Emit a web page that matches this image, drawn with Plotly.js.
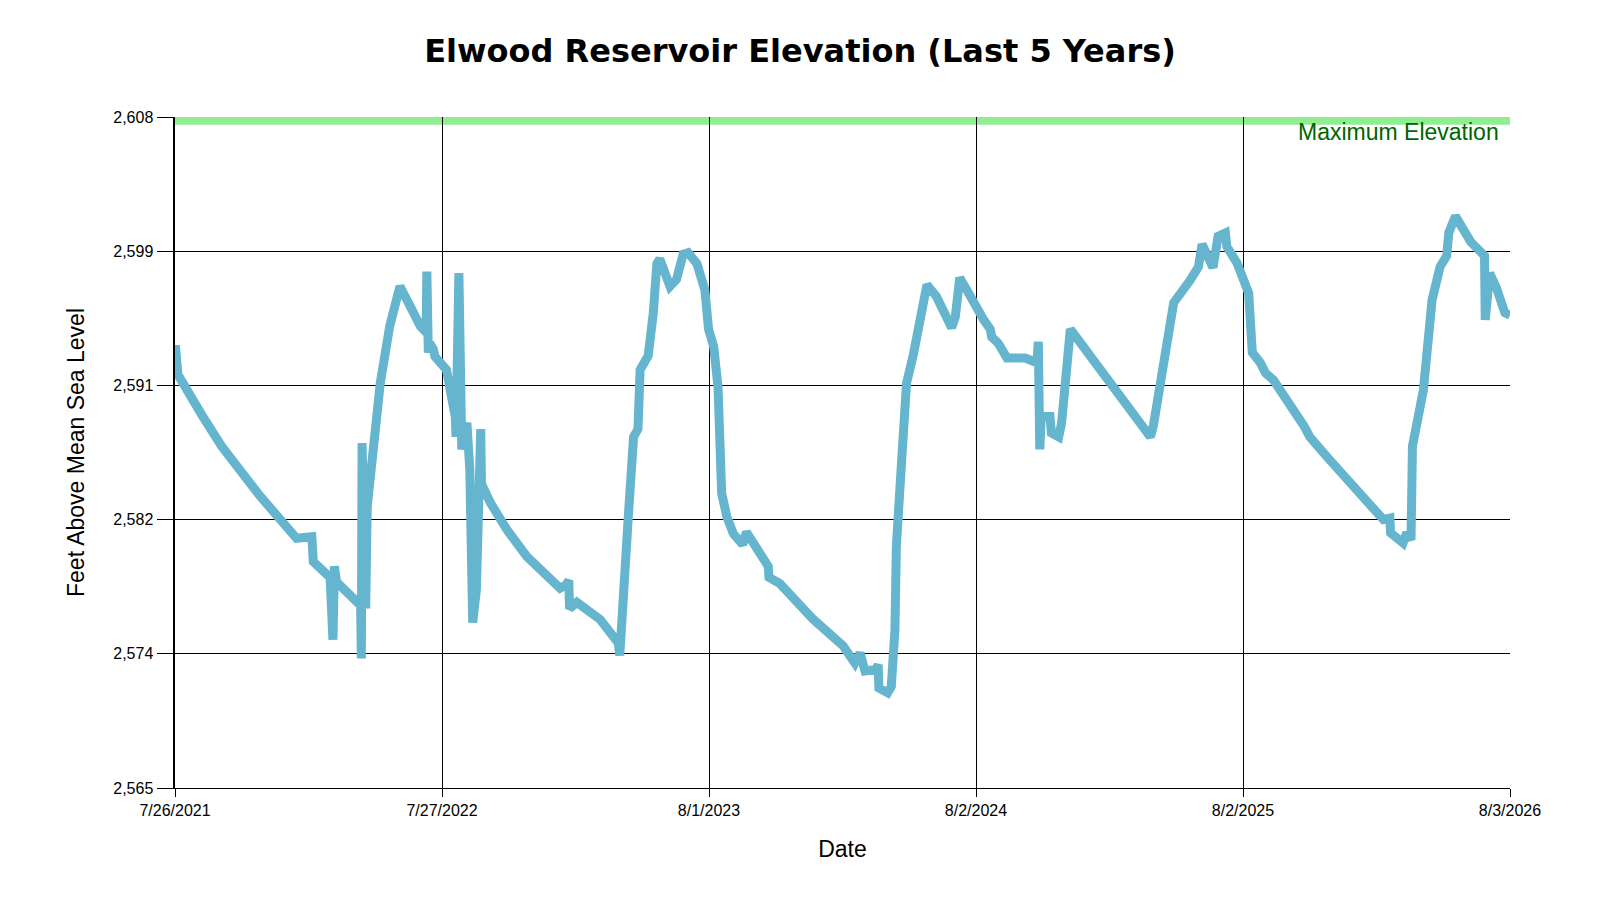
<!DOCTYPE html>
<html>
<head>
<meta charset="utf-8">
<script src="https://cdn.plot.ly/plotly-3.0.1.min.js"></script>
<style>
  html, body { margin: 0; padding: 0; background: #fff; }
  #chart { width: 1600px; height: 900px; }
</style>
</head>
<body>
<div id="chart"></div>
<script>
// elevation readings (ft above mean sea level)
var dates = [
  '2021-07-26', '2021-07-27', '2021-07-30', '2021-08-06', '2021-08-16', '2021-09-01', '2021-09-28',
  '2021-11-20', '2022-01-09', '2022-01-30', '2022-02-01', '2022-02-24', '2022-02-28', '2022-03-02',
  '2022-03-05', '2022-04-02', '2022-04-07', '2022-04-08', '2022-04-09', '2022-04-14', '2022-04-16',
  '2022-05-04', '2022-05-17', '2022-05-31', '2022-06-28', '2022-07-06', '2022-07-07', '2022-07-09',
  '2022-07-11', '2022-07-16', '2022-07-18', '2022-08-03', '2022-08-08', '2022-08-12', '2022-08-15',
  '2022-08-16', '2022-08-20', '2022-08-24', '2022-08-31', '2022-09-04', '2022-09-08', '2022-09-13',
  '2022-09-19', '2022-09-20', '2022-10-02', '2022-10-25', '2022-11-21', '2022-12-23', '2023-01-06',
  '2023-01-14', '2023-01-18', '2023-01-19', '2023-01-29', '2023-03-02', '2023-03-27', '2023-03-29',
  '2023-04-03', '2023-04-10', '2023-04-17', '2023-04-23', '2023-04-26', '2023-05-07', '2023-05-14',
  '2023-05-19', '2023-05-23', '2023-06-06', '2023-06-15', '2023-06-24', '2023-07-01', '2023-07-13',
  '2023-07-24', '2023-07-29', '2023-08-05', '2023-08-11', '2023-08-16', '2023-08-23', '2023-09-01',
  '2023-09-14', '2023-09-19', '2023-10-19', '2023-10-20', '2023-11-04', '2023-12-20', '2024-01-30',
  '2024-02-15', '2024-02-22', '2024-02-29', '2024-03-15', '2024-03-18', '2024-03-19', '2024-03-31',
  '2024-04-05', '2024-04-10', '2024-04-12', '2024-04-19', '2024-04-26', '2024-05-05', '2024-05-15',
  '2024-05-24', '2024-06-06', '2024-06-20', '2024-06-27', '2024-07-02', '2024-07-08', '2024-07-18',
  '2024-07-29', '2024-08-10', '2024-08-19', '2024-08-21', '2024-08-30', '2024-09-11', '2024-10-06',
  '2024-10-22', '2024-10-24', '2024-10-26', '2024-10-28', '2024-11-09', '2024-11-11', '2024-11-21',
  '2024-11-25', '2024-12-07', '2025-01-26', '2025-03-27', '2025-03-31', '2025-04-12', '2025-04-28',
  '2025-05-20', '2025-06-01', '2025-06-06', '2025-06-21', '2025-06-28', '2025-07-08', '2025-07-10',
  '2025-07-24', '2025-07-31', '2025-08-09', '2025-08-14', '2025-08-25', '2025-09-01', '2025-09-12',
  '2025-10-24', '2025-11-01', '2025-11-24', '2025-12-31', '2026-02-10', '2026-02-19', '2026-02-20',
  '2026-03-09', '2026-03-14', '2026-03-20', '2026-03-22', '2026-04-06', '2026-04-13', '2026-04-18',
  '2026-04-29', '2026-05-08', '2026-05-11', '2026-05-20', '2026-06-10', '2026-06-23', '2026-06-29',
  '2026-06-30', '2026-07-06', '2026-07-15', '2026-07-22', '2026-07-27', '2026-08-03'
];

var elevation = [
  2593.1, 2593.1, 2591.5, 2590.95, 2589.9, 2588.9, 2586.9,
  2583.7, 2581.0, 2581.1, 2579.5, 2578.5, 2574.5, 2579.2,
  2578.2, 2576.75, 2576.7, 2573.3, 2587.1, 2576.5, 2583.0,
  2590.95, 2594.6, 2597.15, 2594.6, 2594.2, 2598.1, 2592.9,
  2593.5, 2593.1, 2592.66, 2591.8, 2590.74, 2589.24, 2588.8,
  2587.5, 2598.0, 2586.7, 2588.4, 2585.4, 2575.6, 2577.7,
  2588.0, 2584.5, 2583.3, 2581.55, 2579.85, 2578.35, 2577.8,
  2578.0, 2578.3, 2576.5, 2576.9, 2575.8, 2574.3, 2573.5,
  2578.35, 2582.6, 2587.5, 2588.0, 2591.8, 2592.7, 2595.4,
  2598.6, 2598.9, 2597.15, 2597.6, 2599.2, 2599.3, 2598.6,
  2596.9, 2594.4, 2593.3, 2590.7, 2583.9, 2582.4, 2581.3,
  2580.6, 2581.4, 2579.2, 2578.5, 2578.1, 2575.8, 2574.1,
  2573.0, 2573.65, 2572.5, 2572.6, 2572.9, 2571.4, 2571.1,
  2571.5, 2575.1, 2580.5, 2585.8, 2590.95, 2592.7, 2594.8,
  2597.25, 2596.5, 2595.2, 2594.5, 2595.2, 2597.7, 2596.9,
  2595.9, 2595.0, 2594.4, 2593.9, 2593.5, 2592.55, 2592.55,
  2592.25, 2593.6, 2586.7, 2588.8, 2588.8, 2587.75, 2587.5,
  2588.4, 2594.4, 2591.2, 2587.5, 2588.2, 2592.0, 2596.1,
  2597.5, 2598.4, 2599.85, 2598.35, 2600.35, 2600.57, 2599.7,
  2598.64, 2597.8, 2596.7, 2592.9, 2592.25, 2591.6, 2591.15,
  2588.2, 2587.5, 2586.25, 2584.3, 2582.2, 2582.3, 2581.35,
  2580.7, 2581.35, 2580.9, 2586.9, 2590.5, 2593.9, 2596.3,
  2598.4, 2599.1, 2600.6, 2601.65, 2600.0, 2599.5, 2599.1,
  2595.0, 2598.0, 2597.1, 2596.3, 2595.45, 2595.3
];

// axis settings
var x_range = ['2021-07-26', '2026-08-03'];
var x_tick_labels = ['7/26/2021', '7/27/2022', '8/1/2023', '8/2/2024', '8/2/2025', '8/3/2026'];
var y_range = [2565, 2608];
var y_tick_labels = ['2,565', '2,574', '2,582', '2,591', '2,599', '2,608'];
var max_band = [2607.5, 2608];

// ticks are spread evenly over the axis range
var even_ticks = function(lo, hi, n) {
  var out = [];
  for (var i = 0; i < n; i++) {
    out.push(lo + (hi - lo) * i / (n - 1));
  };
  return out;
};

var t0 = Date.parse(x_range[0]);
var t1 = Date.parse(x_range[1]);
var x_tick_vals = even_ticks(t0, t1, x_tick_labels.length).map(function(ms) {
  return new Date(ms).toISOString().replace('T', ' ').slice(0, 19);
});
var y_tick_vals = even_ticks(y_range[0], y_range[1], y_tick_labels.length);

var label_font = {family: '"Liberation Sans", Arial, sans-serif', size: 16, color: '#000'};
var title_font = {family: '"Liberation Sans", Arial, sans-serif', size: 23, color: '#000'};

var trace = {
  x: dates,
  y: elevation,
  type: 'scatter',
  mode: 'lines',
  line: {color: '#65b5ce', width: 9},
  hoverinfo: 'x+y'
};

var layout = {
  width: 1600,
  height: 900,
  margin: {l: 175, r: 90, t: 117, b: 112},
  paper_bgcolor: '#fff',
  plot_bgcolor: '#fff',
  showlegend: false,
  title: {
    text: 'Elwood Reservoir Elevation (Last 5 Years)',
    font: {family: '"DejaVu Sans", sans-serif', size: 32, color: '#000', weight: 'bold'},
    x: 0.5, xref: 'container', xanchor: 'center',
    y: 1 - 51 / 900, yref: 'container', yanchor: 'middle'
  },
  xaxis: {
    type: 'date',
    range: x_range,
    tickmode: 'array',
    tickvals: x_tick_vals,
    ticktext: x_tick_labels,
    tickfont: label_font,
    ticks: 'outside', ticklen: 8, tickcolor: '#000', tickwidth: 1,
    showgrid: true, gridcolor: '#000', gridwidth: 1,
    showline: true, linecolor: '#000', linewidth: 1,
    zeroline: false,
    title: {text: 'Date', font: title_font, standoff: 22}
  },
  yaxis: {
    range: y_range,
    tickmode: 'array',
    tickvals: y_tick_vals,
    ticktext: y_tick_labels,
    tickfont: label_font,
    ticks: 'outside', ticklen: 16, tickcolor: '#000', tickwidth: 1,
    showgrid: true, gridcolor: '#000', gridwidth: 1,
    showline: true, linecolor: '#000', linewidth: 2.5,
    zeroline: false,
    title: {text: 'Feet Above Mean Sea Level', font: title_font, standoff: 22}
  },
  shapes: [{
    type: 'rect', layer: 'below',
    xref: 'paper', x0: 0, x1: 1,
    yref: 'y', y0: max_band[0], y1: max_band[1],
    fillcolor: '#90ee90', line: {width: 0}
  }],
  annotations: [{
    text: 'Maximum Elevation',
    xref: 'paper', x: 1, xanchor: 'right', xshift: -9,
    yref: 'y', y: max_band[1], yanchor: 'top', yshift: 0,
    showarrow: false,
    font: {family: '"Liberation Sans", Arial, sans-serif', size: 23, color: '#006400'}
  }]
};

Plotly.newPlot('chart', [trace], layout, {displayModeBar: false, staticPlot: true});
</script>
</body>
</html>
